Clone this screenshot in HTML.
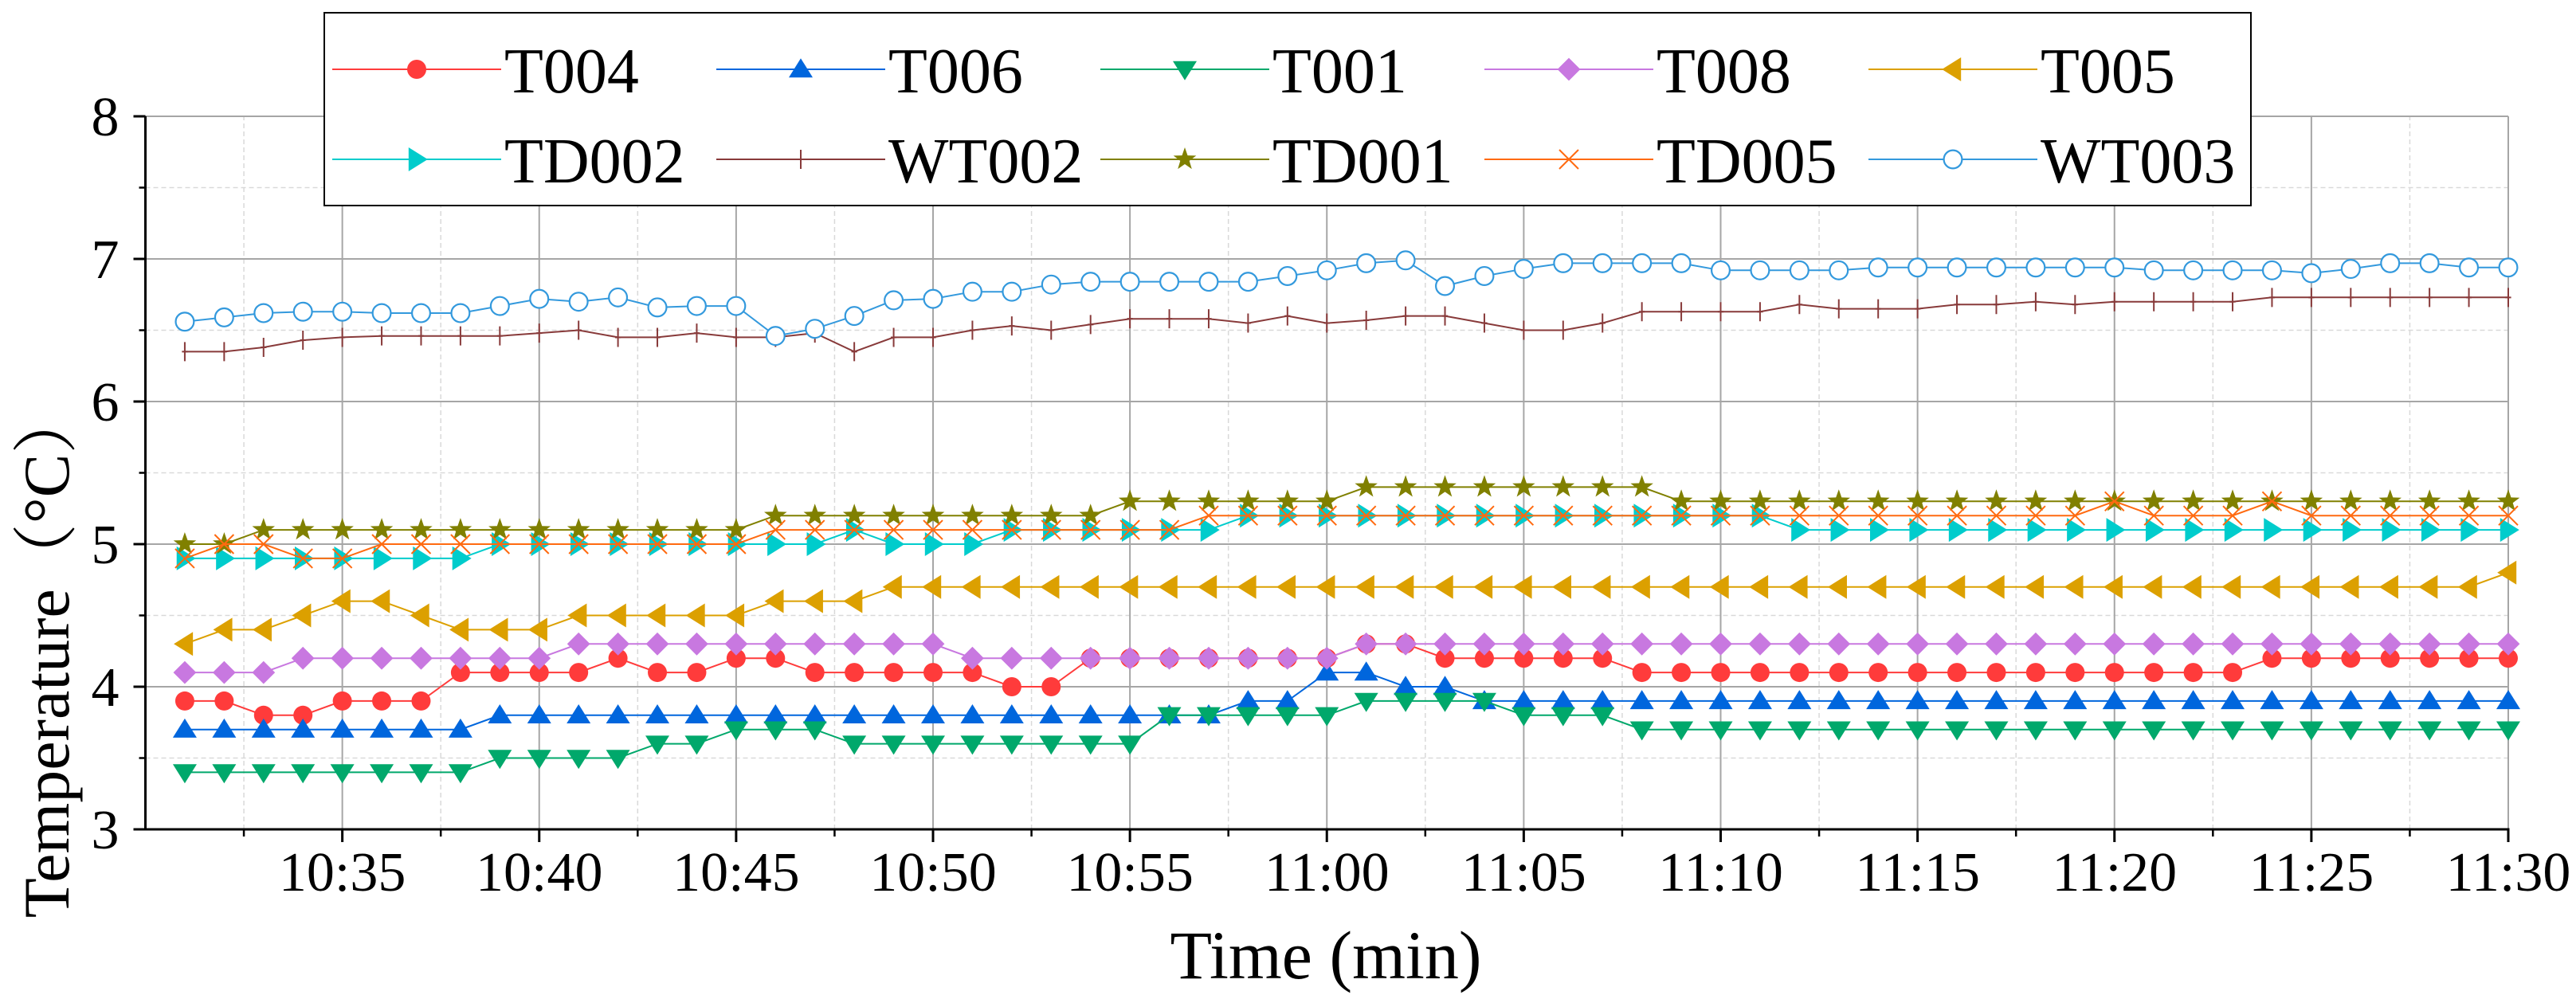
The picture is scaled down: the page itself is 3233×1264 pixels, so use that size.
<!DOCTYPE html>
<html><head><meta charset="utf-8"><style>
html,body{margin:0;padding:0;background:#fff;}
svg{display:block;font-family:"Liberation Serif","DejaVu Serif",serif;}
</style></head><body>
<svg id="chart" width="3233" height="1264" viewBox="0 0 3233 1264" xmlns="http://www.w3.org/2000/svg">
<g id="grid"></g>
<g id="axes"></g>
<g id="series"></g>
<g id="legend"></g>
<text x="0" y="0" font-size="82" text-anchor="middle" transform="translate(86,820) rotate(-90)" font-family="'Liberation Serif','Noto Serif CJK SC',serif">Temperature（°C）</text>
<text x="1664" y="1228" font-size="86" text-anchor="middle">Time (min)</text>
</svg>
<script>
const minutes = [];
for (let m = 31; m <= 90; m++) minutes.push(m); // minutes after 10:00
const xTickLabels = ["10:35","10:40","10:45","10:50","10:55","11:00","11:05","11:10","11:15","11:20","11:25","11:30"];
const xTickMinutes = [35,40,45,50,55,60,65,70,75,80,85,90];
const yTicks = [3,4,5,6,7,8];
const seriesNames = ["T004","T006","T001","T008","T005","TD002","WT002","TD001","TD005","WT003"];
const T004 = [3.9,3.9,3.8,3.8,3.9,3.9,3.9,4.1,4.1,4.1,4.1,4.2,4.1,4.1,4.2,4.2,4.1,4.1,4.1,4.1,4.1,4.0,4.0,4.2,4.2,4.2,4.2,4.2,4.2,4.2,4.3,4.3,4.2,4.2,4.2,4.2,4.2,4.1,4.1,4.1,4.1,4.1,4.1,4.1,4.1,4.1,4.1,4.1,4.1,4.1,4.1,4.1,4.1,4.2,4.2,4.2,4.2,4.2,4.2,4.2];
const T006 = [3.7,3.7,3.7,3.7,3.7,3.7,3.7,3.7,3.8,3.8,3.8,3.8,3.8,3.8,3.8,3.8,3.8,3.8,3.8,3.8,3.8,3.8,3.8,3.8,3.8,3.8,3.8,3.9,3.9,4.1,4.1,4.0,4.0,3.9,3.9,3.9,3.9,3.9,3.9,3.9,3.9,3.9,3.9,3.9,3.9,3.9,3.9,3.9,3.9,3.9,3.9,3.9,3.9,3.9,3.9,3.9,3.9,3.9,3.9,3.9];
const T001 = [3.4,3.4,3.4,3.4,3.4,3.4,3.4,3.4,3.5,3.5,3.5,3.5,3.6,3.6,3.7,3.7,3.7,3.6,3.6,3.6,3.6,3.6,3.6,3.6,3.6,3.8,3.8,3.8,3.8,3.8,3.9,3.9,3.9,3.9,3.8,3.8,3.8,3.7,3.7,3.7,3.7,3.7,3.7,3.7,3.7,3.7,3.7,3.7,3.7,3.7,3.7,3.7,3.7,3.7,3.7,3.7,3.7,3.7,3.7,3.7];
const T008 = [4.1,4.1,4.1,4.2,4.2,4.2,4.2,4.2,4.2,4.2,4.3,4.3,4.3,4.3,4.3,4.3,4.3,4.3,4.3,4.3,4.2,4.2,4.2,4.2,4.2,4.2,4.2,4.2,4.2,4.2,4.3,4.3,4.3,4.3,4.3,4.3,4.3,4.3,4.3,4.3,4.3,4.3,4.3,4.3,4.3,4.3,4.3,4.3,4.3,4.3,4.3,4.3,4.3,4.3,4.3,4.3,4.3,4.3,4.3,4.3];
const T005 = [4.3,4.4,4.4,4.5,4.6,4.6,4.5,4.4,4.4,4.4,4.5,4.5,4.5,4.5,4.5,4.6,4.6,4.6,4.7,4.7,4.7,4.7,4.7,4.7,4.7,4.7,4.7,4.7,4.7,4.7,4.7,4.7,4.7,4.7,4.7,4.7,4.7,4.7,4.7,4.7,4.7,4.7,4.7,4.7,4.7,4.7,4.7,4.7,4.7,4.7,4.7,4.7,4.7,4.7,4.7,4.7,4.7,4.7,4.7,4.8];
const TD002 = [4.9,4.9,4.9,4.9,4.9,4.9,4.9,4.9,5.0,5.0,5.0,5.0,5.0,5.0,5.0,5.0,5.0,5.1,5.0,5.0,5.0,5.1,5.1,5.1,5.1,5.1,5.1,5.2,5.2,5.2,5.2,5.2,5.2,5.2,5.2,5.2,5.2,5.2,5.2,5.2,5.2,5.1,5.1,5.1,5.1,5.1,5.1,5.1,5.1,5.1,5.1,5.1,5.1,5.1,5.1,5.1,5.1,5.1,5.1,5.1];
const WT002 = [6.35,6.35,6.38,6.43,6.45,6.46,6.46,6.46,6.46,6.48,6.50,6.45,6.45,6.48,6.45,6.45,6.48,6.35,6.45,6.45,6.50,6.53,6.50,6.54,6.58,6.58,6.58,6.55,6.60,6.55,6.57,6.60,6.60,6.55,6.50,6.50,6.55,6.63,6.63,6.63,6.63,6.68,6.65,6.65,6.65,6.68,6.68,6.70,6.68,6.70,6.70,6.70,6.70,6.73,6.73,6.73,6.73,6.73,6.73,6.73];
const TD001 = [5.0,5.0,5.1,5.1,5.1,5.1,5.1,5.1,5.1,5.1,5.1,5.1,5.1,5.1,5.1,5.2,5.2,5.2,5.2,5.2,5.2,5.2,5.2,5.2,5.3,5.3,5.3,5.3,5.3,5.3,5.4,5.4,5.4,5.4,5.4,5.4,5.4,5.4,5.3,5.3,5.3,5.3,5.3,5.3,5.3,5.3,5.3,5.3,5.3,5.3,5.3,5.3,5.3,5.3,5.3,5.3,5.3,5.3,5.3,5.3];
const TD005 = [4.9,5.0,5.0,4.9,4.9,5.0,5.0,5.0,5.0,5.0,5.0,5.0,5.0,5.0,5.0,5.1,5.1,5.1,5.1,5.1,5.1,5.1,5.1,5.1,5.1,5.1,5.2,5.2,5.2,5.2,5.2,5.2,5.2,5.2,5.2,5.2,5.2,5.2,5.2,5.2,5.2,5.2,5.2,5.2,5.2,5.2,5.2,5.2,5.2,5.3,5.2,5.2,5.2,5.3,5.2,5.2,5.2,5.2,5.2,5.2];
const WT003 = [6.56,6.59,6.62,6.63,6.63,6.62,6.62,6.62,6.67,6.72,6.70,6.73,6.66,6.67,6.67,6.46,6.51,6.60,6.71,6.72,6.77,6.77,6.82,6.84,6.84,6.84,6.84,6.84,6.88,6.92,6.97,6.99,6.81,6.88,6.93,6.97,6.97,6.97,6.97,6.92,6.92,6.92,6.92,6.94,6.94,6.94,6.94,6.94,6.94,6.94,6.92,6.92,6.92,6.92,6.90,6.93,6.97,6.97,6.94,6.94];

const NS = "http://www.w3.org/2000/svg";
const X0 = 182.5, X1 = 3148, Y0 = 1041, Y1 = 146;
const xMin = 30, xMax = 90, yMin = 3, yMax = 8;
function xs(m){ return X0 + (m - xMin) / (xMax - xMin) * (X1 - X0); }
function ys(v){ return Y0 - (v - yMin) / (yMax - yMin) * (Y0 - Y1); }
function mk(tag, attrs, parent){ const e = document.createElementNS(NS, tag); for (const k in attrs) e.setAttribute(k, attrs[k]); parent.appendChild(e); return e; }

const grid = document.getElementById('grid'), axes = document.getElementById('axes'), ser = document.getElementById('series'), leg = document.getElementById('legend');
for (let v = 3.5; v < 8; v += 1) {
  const l = mk('line', {x1:X0, x2:X1, y1:ys(v), y2:ys(v), stroke:'#d9d9d9', 'stroke-width':1.5, 'stroke-dasharray':'6,4'}, grid);
  
  
}
for (let m = 32.5; m < 90; m += 5) {
  const l = mk('line', {x1:xs(m), x2:xs(m), y1:Y0, y2:Y1, stroke:'#d9d9d9', 'stroke-width':1.5, 'stroke-dasharray':'6,4'}, grid);
  
  
}
yTicks.forEach(v => { if (v === 3) return;
  const l = mk('line', {x1:X0, x2:X1, y1:ys(v), y2:ys(v), stroke:'#a6a6a6', 'stroke-width':2}, grid);
  
  
});
xTickMinutes.forEach(m => {
  const l = mk('line', {x1:xs(m), x2:xs(m), y1:Y0, y2:Y1, stroke:'#a6a6a6', 'stroke-width':2}, grid);
  
  
});
const ya = mk('line', {x1:X0, x2:X0, y1:Y0+1.5, y2:Y1, stroke:'#000', 'stroke-width':3}, axes);


const xa = mk('line', {x1:X0-1.5, x2:X1+1.5, y1:Y0, y2:Y0, stroke:'#000', 'stroke-width':3}, axes);


yTicks.forEach(v => {
  mk('line', {x1:X0-15, x2:X0, y1:ys(v), y2:ys(v), stroke:'#000', 'stroke-width':3}, axes);
  const t = mk('text', {x:X0-33, y:ys(v)+24, 'font-size':70, 'text-anchor':'end'}, axes);
  t.textContent = v;
  
  
});
for (let v = 3.5; v < 8; v += 1) mk('line', {x1:X0-8, x2:X0, y1:ys(v), y2:ys(v), stroke:'#000', 'stroke-width':2.5}, axes);
xTickMinutes.forEach((m, i) => {
  mk('line', {x1:xs(m), x2:xs(m), y1:Y0, y2:Y0+16, stroke:'#000', 'stroke-width':3}, axes);
  const t = mk('text', {x:xs(m), y:Y0+77, 'font-size':70, 'text-anchor':'middle'}, axes);
  t.textContent = xTickLabels[i];
  
  
});
for (let m = 32.5; m < 90; m += 5) mk('line', {x1:xs(m), x2:xs(m), y1:Y0, y2:Y0+9, stroke:'#000', 'stroke-width':2.5}, axes);

const seriesData = [T004,T006,T001,T008,T005,TD002,WT002,TD001,TD005,WT003];
const colors = ['#ff3b3b','#0066dd','#00a86b','#c878e0','#dca000','#00cccc','#883a3a','#808000','#ff6a10','#3399dd'];
const shapes = ['circle','up','down','diamond','left','right','plus','star','cross','ocircle'];

function marker(g, shape, cx, cy, col, s){
  const r = 12*s;
  let e;
  switch(shape){
    case 'circle': e = mk('circle', {cx, cy, r, fill:col}, g); break;
    case 'ocircle': e = mk('circle', {cx, cy, r:r*0.95, fill:'#fff', stroke:col, 'stroke-width':2.2}, g); break;
    case 'up': e = mk('polygon', {points:`${cx},${cy-r*1.15} ${cx+r*1.25},${cy+r*0.85} ${cx-r*1.25},${cy+r*0.85}`, fill:col}, g); break;
    case 'down': e = mk('polygon', {points:`${cx},${cy+r*1.15} ${cx+r*1.25},${cy-r*0.85} ${cx-r*1.25},${cy-r*0.85}`, fill:col}, g); break;
    case 'left': e = mk('polygon', {points:`${cx-r*1.15},${cy} ${cx+r*0.85},${cy-r*1.25} ${cx+r*0.85},${cy+r*1.25}`, fill:col}, g); break;
    case 'right': e = mk('polygon', {points:`${cx+r*1.15},${cy} ${cx-r*0.85},${cy-r*1.25} ${cx-r*0.85},${cy+r*1.25}`, fill:col}, g); break;
    case 'diamond': e = mk('polygon', {points:`${cx},${cy-r*1.2} ${cx+r*1.2},${cy} ${cx},${cy+r*1.2} ${cx-r*1.2},${cy}`, fill:col}, g); break;
    case 'plus': e = mk('path', {d:`M${cx},${cy-r} V${cy+r} M${cx-r*0.3},${cy} H${cx+r*0.3}`, stroke:col, 'stroke-width':2, fill:'none'}, g); break;
    case 'cross': e = mk('path', {d:`M${cx-r},${cy-r} L${cx+r},${cy+r} M${cx-r},${cy+r} L${cx+r},${cy-r}`, stroke:col, 'stroke-width':2, fill:'none'}, g); break;
    case 'star': {
      let p = [];
      for (let k = 0; k < 10; k++){ const a = -Math.PI/2 + k*Math.PI/5; const rr = k%2 ? r*0.5 : r*1.25; p.push((cx+rr*Math.cos(a)).toFixed(1)+','+(cy+rr*Math.sin(a)).toFixed(1)); }
      e = mk('polygon', {points:p.join(' '), fill:col}, g); break;
    }
  }
  return e;
}

seriesData.forEach((vals, si) => {
  const g = mk('g', {}, ser);
  
  
  const pts = vals.map((v, i) => xs(minutes[i]).toFixed(1) + ',' + ys(v).toFixed(1)).join(' ');
  const pl = mk('polyline', {points:pts, fill:'none', stroke:colors[si], 'stroke-width':2}, g);
  
  
  vals.forEach((v, i) => {
    const m = marker(g, shapes[si], xs(minutes[i]), ys(v), colors[si], 1);
    
    
  });
});

const box = mk('rect', {x:407, y:16, width:2418, height:242, fill:'#fff', stroke:'#000', 'stroke-width':2}, leg);


seriesNames.forEach((n, i) => {
  const col = i % 5, row = Math.floor(i / 5);
  const lx = 417 + col * 482, ly = row === 0 ? 87 : 200;
  const g = mk('g', {}, leg);
  
  
  mk('line', {x1:lx, x2:lx+212, y1:ly, y2:ly, stroke:colors[i], 'stroke-width':2}, g);
  marker(g, shapes[i], lx+106, ly, colors[i], 1);
  const t = mk('text', {x:lx+216, y:ly+29, 'font-size':80}, g);
  t.textContent = n;
});
</script>
</body></html>
